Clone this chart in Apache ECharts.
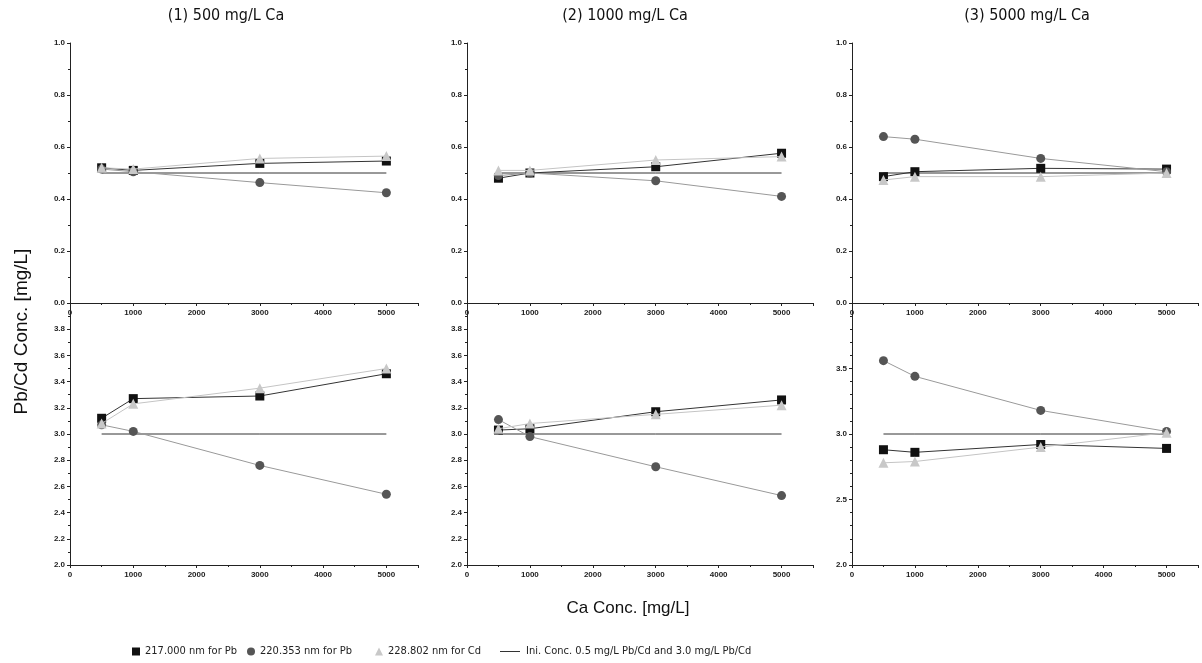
<!DOCTYPE html>
<html>
<head>
<meta charset="utf-8">
<script src="https://cdn.jsdelivr.net/npm/echarts@6/dist/echarts.min.js"></script>
<style>
  html, body { margin: 0; padding: 0; background: #fff; }
  #chart { width: 1202px; height: 663px; }
</style>
</head>
<body>
<div id="chart"></div>
<script>
  // Ca concentration (x) for all panels
  const xCa = [500, 1000, 3000, 5000]

  // panel (1) 500 mg/L Ca
  const p1Top217 = [0.52, 0.51, 0.537, 0.546]
  const p1Top220 = [0.515, 0.505, 0.463, 0.424]
  const p1Top228 = [0.52, 0.515, 0.556, 0.565]
  const p1Bot217 = [3.12, 3.27, 3.29, 3.46]
  const p1Bot220 = [3.07, 3.02, 2.76, 2.54]
  const p1Bot228 = [3.08, 3.23, 3.35, 3.50]

  // panel (2) 1000 mg/L Ca
  const p2Top217 = [0.48, 0.50, 0.524, 0.576]
  const p2Top220 = [0.49, 0.50, 0.47, 0.41]
  const p2Top228 = [0.51, 0.51, 0.55, 0.563]
  const p2Bot217 = [3.03, 3.04, 3.17, 3.26]
  const p2Bot220 = [3.11, 2.98, 2.75, 2.53]
  const p2Bot228 = [3.04, 3.08, 3.15, 3.22]

  // panel (3) 5000 mg/L Ca
  const p3Top217 = [0.486, 0.505, 0.518, 0.515]
  const p3Top220 = [0.64, 0.63, 0.556, 0.505]
  const p3Top228 = [0.473, 0.486, 0.486, 0.50]
  const p3Bot217 = [2.88, 2.86, 2.92, 2.89]
  const p3Bot220 = [3.56, 3.44, 3.18, 3.02]
  const p3Bot228 = [2.78, 2.79, 2.90, 3.01]

  // initial concentration lines
  const iniTop = [0.5, 0.5, 0.5, 0.5]
  const iniBot = [3.0, 3.0, 3.0, 3.0]

  const panelTitles = ['(1) 500 mg/L Ca', '(2) 1000 mg/L Ca', '(3) 5000 mg/L Ca']
  const seriesNames = ['217.000 nm for Pb', '220.353 nm for Pb', '228.802 nm for Cd',
    'Ini. Conc. 0.5 mg/L Pb/Cd and 3.0 mg/L Pb/Cd']

  const chart = echarts.init(document.getElementById('chart'))

  const narrow = "'DejaVu Sans Condensed', 'Liberation Sans', sans-serif"
  const pairs = (ys) => xCa.map((x, i) => [x, ys[i]])
  const labelFont = { fontSize: 8, fontWeight: 'bold', color: '#222', fontFamily: "'Liberation Sans', sans-serif" }
  const axisLine = { show: true, onZero: false, lineStyle: { color: '#222', width: 1 } }

  const panels = [
    { left: 70, width: 348, top: [p1Top217, p1Top220, p1Top228], bot: [p1Bot217, p1Bot220, p1Bot228] },
    { left: 467, width: 346, top: [p2Top217, p2Top220, p2Top228], bot: [p2Bot217, p2Bot220, p2Bot228] },
    { left: 852, width: 346, top: [p3Top217, p3Top220, p3Top228], bot: [p3Bot217, p3Bot220, p3Bot228] }
  ]

  const grid = [], xAxis = [], yAxis = [], series = []

  const styles = [
    { symbol: 'rect', size: 9, color: '#111', line: '#333' },
    { symbol: 'circle', size: 9, color: '#555', line: '#999' },
    { symbol: 'triangle', size: 10, color: '#c8c8c8', line: '#c4c4c4' }
  ]

  panels.forEach((p, pi) => {
    ;['top', 'bot'].forEach((row) => {
      const gi = grid.length
      grid.push({ left: p.left, width: p.width, top: row === 'top' ? 43 : 303, height: row === 'top' ? 260 : 262 })
      xAxis.push({
        type: 'value', gridIndex: gi, min: 0, max: 5500, interval: 1000,
        axisLine, splitLine: { show: false },
        axisTick: { show: true, length: 3, lineStyle: { color: '#222' } },
        minorTick: { show: true, splitNumber: 2, length: 2, lineStyle: { color: '#222' } },
        axisLabel: Object.assign({ margin: 6, showMaxLabel: false, formatter: (v) => String(v) }, labelFont)
      })
      let ymin, ymax, yint
      if (row === 'top') { ymin = 0; ymax = 1.0; yint = 0.2 }
      else if (pi < 2) { ymin = 2.0; ymax = 4.0; yint = 0.2 }
      else { ymin = 2.0; ymax = 4.0; yint = 0.5 }
      yAxis.push({
        type: 'value', gridIndex: gi, min: ymin, max: ymax, interval: yint,
        axisLine, splitLine: { show: false },
        axisTick: { show: true, length: 3, lineStyle: { color: '#222' } },
        minorTick: { show: true, splitNumber: yint === 0.5 ? 5 : 2, length: 2, lineStyle: { color: '#222' } },
        axisLabel: Object.assign({ margin: 5, showMaxLabel: row === 'top', formatter: (v) => v.toFixed(1) }, labelFont)
      })
      const vals = row === 'top' ? p.top : p.bot
      series.push({
        name: seriesNames[3], type: 'line', xAxisIndex: gi, yAxisIndex: gi,
        data: pairs(row === 'top' ? iniTop : iniBot), showSymbol: false, symbol: 'none',
        lineStyle: { color: '#333', width: 1 }, itemStyle: { color: '#333' }, z: 1
      })
      vals.forEach((ys, si) => {
        const s = styles[si]
        series.push({
          name: seriesNames[si], type: 'line', xAxisIndex: gi, yAxisIndex: gi,
          data: pairs(ys), symbol: s.symbol, symbolSize: s.size,
          itemStyle: { color: s.color }, lineStyle: { color: s.line, width: 1 }, z: 3 + si
        })
      })
    })
  })

  const legendText = { fontSize: 11, color: '#222', fontFamily: narrow }
  const legend = [
    { data: [{ name: seriesNames[0], icon: 'rect' }], left: 127, itemWidth: 8, itemHeight: 8 },
    { data: [{ name: seriesNames[1], icon: 'circle' }], left: 242, itemWidth: 8, itemHeight: 8 },
    { data: [{ name: seriesNames[2], icon: 'triangle' }], left: 370, itemWidth: 8, itemHeight: 8 },
    { data: [{ name: seriesNames[3], icon: 'path://M0,0 L20,0 L20,1 L0,1 Z' }], left: 495, itemWidth: 22, itemHeight: 1 }
  ].map((l) => Object.assign(l, { top: 641, itemGap: 4, textStyle: legendText, selectedMode: false }))

  const title = panelTitles.map((t, i) => ({
    text: t, left: [221, 620, 1022][i], top: 3, textAlign: 'center',
    textStyle: { fontSize: 16, fontWeight: 'normal', color: '#111', fontFamily: narrow }
  }))
  title.push({
    text: 'Ca Conc. [mg/L]', left: 623, top: 595, textAlign: 'center',
    textStyle: { fontSize: 17, fontWeight: 'normal', color: '#111', fontFamily: "'Liberation Sans', sans-serif" }
  })

  chart.setOption({
    animation: false,
    title,
    legend,
    grid,
    xAxis,
    yAxis,
    series,
    graphic: [{
      type: 'text', left: 12, top: 'middle', rotation: Math.PI / 2,
      style: { text: 'Pb/Cd Conc. [mg/L]', fontSize: 19, fill: '#111', fontFamily: "'Liberation Sans', sans-serif" }
    }]
  })
</script>
</body>
</html>
